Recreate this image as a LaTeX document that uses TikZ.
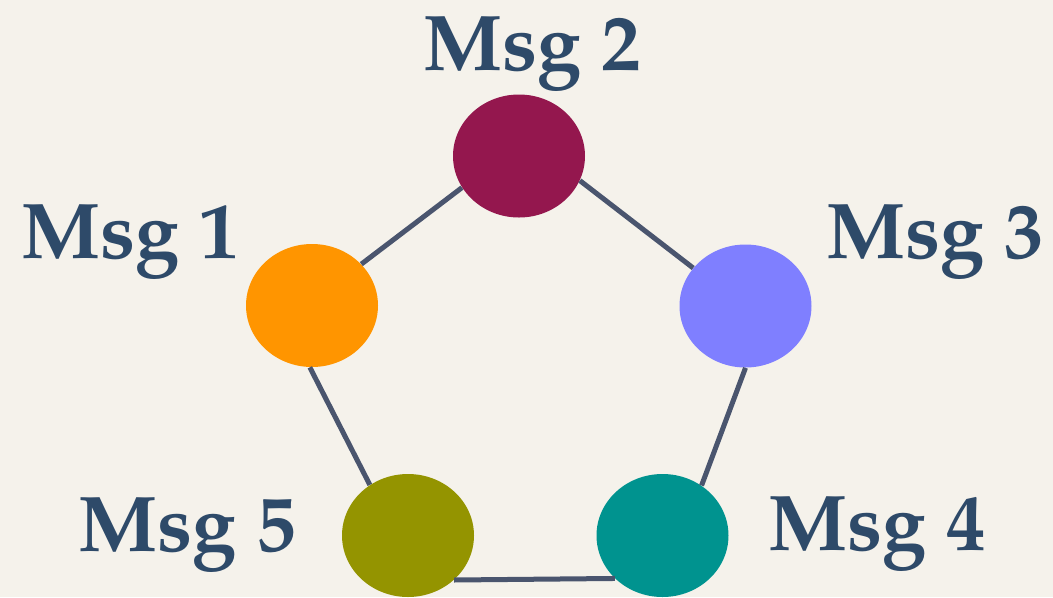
\documentclass[tikz,border=0pt]{standalone}
\usepackage[T1]{fontenc}
\usepackage{mathpazo}
\usetikzlibrary{shapes.geometric}

\definecolor{paper}{HTML}{F5F2EB}
\definecolor{ink}{HTML}{2E4A69}
\definecolor{wire}{HTML}{4A556E}
\definecolor{msgone}{HTML}{FF9500}
\definecolor{msgtwo}{HTML}{94174E}
\definecolor{msgthree}{HTML}{7F7FFF}
\definecolor{msgfour}{HTML}{00938F}
\definecolor{msgfive}{HTML}{949400}

\begin{document}
\begin{tikzpicture}[msg/.style={ellipse, draw=none, inner sep=0pt, minimum width=2.64cm, minimum height=2.46cm},
  lbl/.style={anchor=base, text=ink, inner sep=0pt, font=\fontsize{45}{50}\selectfont\bfseries},
  edge/.style={draw=wire, line width=0.1cm}]
\fill[paper] (0,0) rectangle (21.06,-11.94);
\useasboundingbox (0,0) rectangle (21.06,-11.94);
\node[msg, fill=msgone] (m1) at (6.24,-6.11) {};
\node[msg, fill=msgtwo] (m2) at (10.38,-3.12) {};
\node[msg, fill=msgthree] (m3) at (14.91,-6.12) {};
\node[msg, fill=msgfour] (m4) at (13.25,-10.71) {};
\node[msg, fill=msgfive] (m5) at (8.16,-10.71) {};
\node[lbl] (l1) at (2.61,-5.17) {Msg 1};
\node[lbl] (l2) at (10.65,-1.40) {Msg 2};
\node[lbl] (l3) at (18.71,-5.16) {Msg 3};
\node[lbl] (l4) at (17.54,-11.00) {Msg 4};
\node[lbl] (l5) at (3.75,-11.03) {Msg 5};
\draw[edge] (m1.40) -- (m2.209);
\draw[edge] (m2.-22) -- (m3.144);
\draw[edge] (m3.-90) -- (m4.52);
\draw[edge] (m4.222) -- (m5.-44);
\draw[edge] (m5.127) -- (m1.-92);
\end{tikzpicture}
\end{document}
